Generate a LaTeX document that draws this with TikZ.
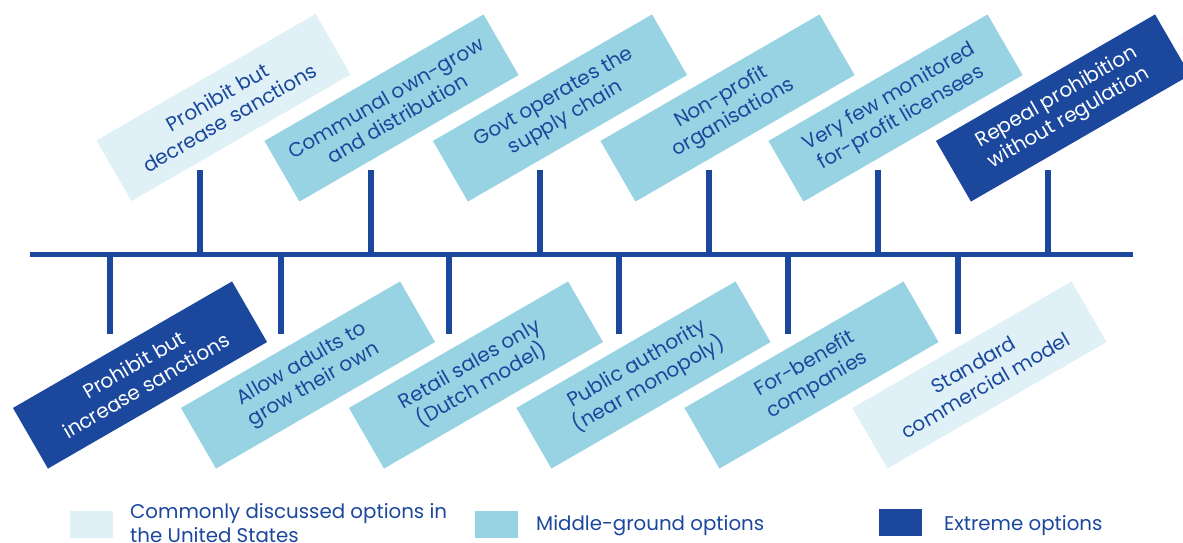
\documentclass[tikz,border=0pt]{standalone}
\usepackage{fontspec}
\setmainfont{Poppins}
\definecolor{dark}{RGB}{27,71,157}
\definecolor{mid}{RGB}{152,211,227}
\definecolor{light}{RGB}{223,241,247}
\begin{document}
\begin{tikzpicture}[x=1pt,y=-1pt,
  opt/.style={rotate=30,minimum width=253pt,minimum height=70pt,inner sep=0pt,align=center,
    font=\fontsize{20}{24}\selectfont,text=dark},
  lightopt/.style={opt,fill=light},
  midopt/.style={opt,fill=mid},
  darkopt/.style={opt,fill=dark,text=white},
  spine/.style={draw=dark,line width=5pt},
  tick/.style={draw=dark,line width=6pt},
  legbox/.style={minimum width=43pt,minimum height=27pt,inner sep=0pt},
  legtext/.style={anchor=west,align=left,text=dark,font=\fontsize{19.8}{23.5}\selectfont,inner sep=0pt}
]
\useasboundingbox (0,0) rectangle (1183,542);
% spine
\coordinate (sL) at (30,254);
\coordinate (sR) at (1133,254);
\draw[spine] (sL) -- (sR);
% upper options
\node[lightopt] (u1) at (223.5,107.5) {Prohibit but\\decrease sanctions};
\node[midopt] (u2) at (391.5,108) {Communal own-grow\\and distribution};
\node[midopt] (u3) at (560,108) {Govt operates the\\supply chain};
\node[midopt] (u4) at (727.5,108) {Non-profit\\organisations};
\node[midopt] (u5) at (895.5,108) {Very few monitored\\for-profit licensees};
\node[darkopt] (u6) at (1063,108) {Repeal prohibition\\without regulation};
% lower options
\node[darkopt] (l1) at (140,375) {Prohibit but\\increase sanctions};
\node[midopt] (l2) at (308,375) {Allow adults to\\grow their own};
\node[midopt] (l3) at (476,375) {Retail sales only\\(Dutch model)};
\node[midopt] (l4) at (643.5,375) {Public authority\\(near monopoly)};
\node[midopt] (l5) at (811.5,375) {For-benefit\\companies};
\node[lightopt] (l6) at (979.5,375) {Standard\\commercial model};
% ticks
\foreach \i/\x in {1/200,2/371,3/540,4/709,5/878,6/1048}{
  \coordinate (ut\i) at (\x,170);
  \draw[tick] (ut\i) -- (ut\i |- sL);
}
\foreach \i/\x in {1/110,2/281,3/449,4/619,5/788,6/958}{
  \coordinate (lt\i) at (\x,334);
  \draw[tick] (lt\i) -- (lt\i |- sL);
}
% legend
\node[legbox,fill=light] (k1) at (91.5,524) {};
\node[legtext] (k1t) at (130,523) {Commonly discussed options in\\the United States};
\node[legbox,fill=mid] (k2) at (496.5,524) {};
\node[legtext] (k2t) at (536,526) {Middle-ground options};
\node[legbox,fill=dark] (k3) at (900,522) {};
\node[legtext] (k3t) at (944,526) {Extreme options};
\end{tikzpicture}
\end{document}
